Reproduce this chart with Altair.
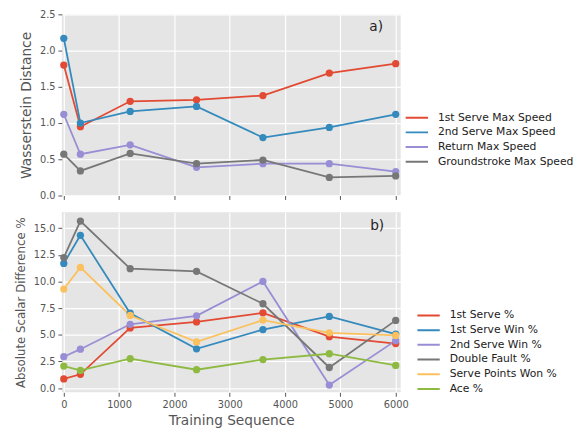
import altair as alt
import pandas as pd

steps = [0, 300, 1200, 2400, 3600, 4800, 6000]

top_series = ["1st Serve Max Speed", "2nd Serve Max Speed", "Return Max Speed", "Groundstroke Max Speed"]
top_colors = ["#E24A33", "#348ABD", "#988ED5", "#777777"]
first_serve_max = [1.80, 0.95, 1.30, 1.32, 1.38, 1.69, 1.82]
second_serve_max = [2.17, 1.00, 1.16, 1.23, 0.80, 0.94, 1.12]
return_max = [1.12, 0.57, 0.70, 0.39, 0.44, 0.44, 0.33]
ground_max = [0.57, 0.34, 0.58, 0.44, 0.49, 0.25, 0.27]
top_values = [first_serve_max, second_serve_max, return_max, ground_max]

bot_series = ["1st Serve %", "1st Serve Win %", "2nd Serve Win %", "Double Fault %", "Serve Points Won %", "Ace %"]
bot_colors = ["#E24A33", "#348ABD", "#988ED5", "#777777", "#FBC15E", "#8EBA42"]
first_serve_pct = [0.86, 1.29, 5.64, 6.20, 7.06, 4.82, 4.17]
first_serve_win = [11.69, 14.33, 7.02, 3.68, 5.49, 6.72, 5.06]
second_serve_win = [2.94, 3.65, 5.98, 6.78, 10.00, 0.28, 4.45]
double_fault = [12.24, 15.67, 11.20, 10.95, 7.91, 1.93, 6.35]
serve_points_won = [9.29, 11.32, 6.81, 4.33, 6.38, 5.18, 4.94]
ace_pct = [2.06, 1.66, 2.76, 1.72, 2.67, 3.22, 2.12]
bot_values = [first_serve_pct, first_serve_win, second_serve_win, double_fault, serve_points_won, ace_pct]

x_ticks = [0, 1000, 2000, 3000, 4000, 5000, 6000]
top_y_ticks = [0.0, 0.5, 1.0, 1.5, 2.0, 2.5]
bot_y_ticks = [0.0, 2.5, 5.0, 7.5, 10.0, 12.5, 15.0]


def make_df(names, values):
    rows = []
    for i, (n, vals) in enumerate(zip(names, values)):
        for s, v in zip(steps, vals):
            rows.append({"step": s, "value": v, "series": n, "order": i})
    return pd.DataFrame(rows)


top_df = make_df(top_series, top_values)
bot_df = make_df(bot_series, bot_values)

W = 346
FONT = "DejaVu Sans"


def panel(df, names, colors, y_title, y_ticks, y_domain, show_x_labels, legend_x, label_text, label_pos, h, y_title_size):
    color = alt.Color(
        "series:N",
        scale=alt.Scale(domain=names, range=colors),
        sort=names,
        legend=alt.Legend(
            title=None,
            orient="none",
            legendX=legend_x,
            legendY=98,
            symbolType="stroke",
            symbolSize=520,
            symbolStrokeWidth=2,
            clipHeight=15,
            rowPadding=0,
            labelFontSize=11,
            labelFont=FONT,
            labelColor="#222222",
            labelOffset=9,
            padding=0,
        ),
    )
    x_axis = alt.Axis(
        values=x_ticks,
        format="d",
        labels=show_x_labels,
        title="Training Sequence" if show_x_labels else None,
        titleFontSize=14,
        titleFontWeight="normal",
        titleColor="#555555",
        titleFont=FONT,
        titlePadding=5,
    )
    y_axis = alt.Axis(
        values=y_ticks,
        format=".1f",
        title=y_title,
        titleFontSize=y_title_size,
        titleFontWeight="normal",
        titleColor="#555555",
        titleFont=FONT,
        titlePadding=6,
    )
    base = alt.Chart(df).encode(
        x=alt.X("step:Q", scale=alt.Scale(domain=[-35, 6090], nice=False, zero=False), axis=x_axis),
        y=alt.Y("value:Q", scale=alt.Scale(domain=y_domain, nice=False), axis=y_axis),
        color=color,
        detail="series:N",
        order="order:Q",
    )
    lines = base.mark_line(strokeWidth=1.8)
    pts = base.mark_circle(size=55, opacity=1)
    lbl = alt.Chart(pd.DataFrame({"t": [label_text]})).mark_text(
        fontSize=14, font=FONT, color="#222222", align="center", baseline="middle"
    ).encode(text="t:N", x=alt.value(label_pos[0]), y=alt.value(label_pos[1]))
    return alt.layer(lines, pts, lbl).properties(width=W, height=h)


top = panel(top_df, top_series, top_colors, "Wasserstein Distance", top_y_ticks, [0, 2.5], False, 350, "a)", (321, 13), 185, 14)
bot = panel(bot_df, bot_series, bot_colors, "Absolute Scalar Difference %", bot_y_ticks, [-0.4, 16.5], True, 362, "b)", (322, 14), 184, 12)

chart = (
    alt.vconcat(top, bot, spacing=12)
    .resolve_scale(color="independent")
    .properties(padding={"left": 6, "top": -3, "right": 0, "bottom": 0}, background="white")
    .configure_view(fill="#E5E5E5", stroke=None)
    .configure_axis(
        domain=False,
        grid=True,
        gridColor="white",
        gridWidth=1.2,
        tickColor="#555555",
        tickSize=4,
        labelColor="#555555",
        labelFontSize=10,
        labelFont=FONT,
        labelPadding=3,
    )
)

chart.save("out.html", embed_options={"renderer": "svg", "actions": False})
